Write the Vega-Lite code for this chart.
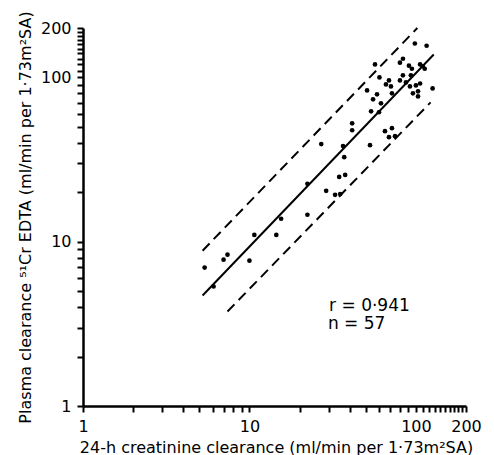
{
  "$schema": "https://vega.github.io/schema/vega-lite/v6.json",
  "width": 383,
  "height": 378,
  "autosize": {"type": "none"},
  "padding": {"left": 83, "top": 28, "right": 28, "bottom": 49},
  "background": "white",
  "config": {
    "view": {"stroke": null},
    "font": "DejaVu Sans"
  },
  "datasets": {
    "points": [
      {"creat": 5.38, "edta": 6.96}, {"creat": 6.09, "edta": 5.34}, {"creat": 6.99, "edta": 7.78},
      {"creat": 7.38, "edta": 8.34}, {"creat": 10.0, "edta": 7.67}, {"creat": 10.7, "edta": 11.0},
      {"creat": 14.5, "edta": 11.0}, {"creat": 15.5, "edta": 13.8}, {"creat": 22.3, "edta": 14.6},
      {"creat": 22.3, "edta": 22.5}, {"creat": 28.9, "edta": 20.4}, {"creat": 32.7, "edta": 19.3},
      {"creat": 35.1, "edta": 19.5}, {"creat": 34.6, "edta": 24.8}, {"creat": 37.6, "edta": 25.5},
      {"creat": 27.0, "edta": 39.3}, {"creat": 37.1, "edta": 32.7}, {"creat": 36.5, "edta": 38.2},
      {"creat": 41.4, "edta": 52.6}, {"creat": 41.4, "edta": 47.7}, {"creat": 53.0, "edta": 38.7},
      {"creat": 53.8, "edta": 62.2}, {"creat": 60.0, "edta": 61.4}, {"creat": 55.3, "edta": 73.6},
      {"creat": 58.4, "edta": 78.9}, {"creat": 61.7, "edta": 69.6}, {"creat": 50.9, "edta": 83.4},
      {"creat": 56.8, "edta": 120}, {"creat": 60.4, "edta": 100}, {"creat": 66.1, "edta": 90.7},
      {"creat": 68.9, "edta": 95.9}, {"creat": 70.8, "edta": 88.2}, {"creat": 71.8, "edta": 80.0},
      {"creat": 65.2, "edta": 47.1}, {"creat": 71.8, "edta": 49.1}, {"creat": 68.9, "edta": 43.3},
      {"creat": 74.9, "edta": 43.9}, {"creat": 80.2, "edta": 123}, {"creat": 83.6, "edta": 130},
      {"creat": 80.2, "edta": 95.9}, {"creat": 83.6, "edta": 103}, {"creat": 87.1, "edta": 93.3},
      {"creat": 92.1, "edta": 88.2}, {"creat": 90.8, "edta": 118}, {"creat": 94.6, "edta": 113},
      {"creat": 93.3, "edta": 103}, {"creat": 106, "edta": 120}, {"creat": 110, "edta": 117},
      {"creat": 100, "edta": 89.4}, {"creat": 106, "edta": 91.9}, {"creat": 96.0, "edta": 80.0},
      {"creat": 103, "edta": 82.3}, {"creat": 103, "edta": 76.7}, {"creat": 98.6, "edta": 161},
      {"creat": 116, "edta": 156}, {"creat": 126, "edta": 85.8}, {"creat": 113, "edta": 113}
    ],
    "fit": [
      {"creat": 5.23, "edta": 4.71},
      {"creat": 128, "edta": 138}
    ],
    "limits": [
      {"limit": "upper", "creat": 5.23, "edta": 8.82},
      {"limit": "upper", "creat": 102, "edta": 200},
      {"limit": "lower", "creat": 7.38, "edta": 3.76},
      {"limit": "lower", "creat": 122.5, "edta": 70.5}
    ],
    "notes": [
      {"creat": 30.1, "edta": 3.79, "text": "r = 0·941"},
      {"creat": 29.6, "edta": 2.94, "text": "n = 57"}
    ]
  },
  "encoding": {
    "x": {
      "field": "creat",
      "type": "quantitative",
      "scale": {"type": "log", "domain": [1, 200], "nice": false},
      "axis": {
        "values": [1, 2, 3, 4, 5, 6, 7, 8, 9, 10, 20, 30, 40, 50, 60, 70, 80, 90, 100, 110, 120, 130, 140, 150, 160, 170, 180, 190, 200],
        "format": "d",
        "labelExpr": "datum.value == 1 || datum.value == 10 || datum.value == 100 || datum.value == 200 ? datum.label : ''",
        "labelOverlap": false,
        "labelFlush": false,
        "grid": false,
        "domainColor": "black",
        "domainWidth": 2.5,
        "tickColor": "black",
        "tickWidth": 2,
        "tickSize": 6,
        "labelColor": "black",
        "labelFont": "DejaVu Sans",
        "labelFontSize": 16,
        "labelPadding": 6,
        "title": "24-h creatinine clearance (ml/min per 1·73m²SA)",
        "titleFont": "DejaVu Sans",
        "titleFontSize": 16,
        "titleFontWeight": "normal",
        "titleColor": "black",
        "titleAlign": "center",
        "titleBaseline": "alphabetic",
        "titleX": 193,
        "titleY": 46
      }
    },
    "y": {
      "field": "edta",
      "type": "quantitative",
      "scale": {"type": "log", "domain": [1, 200], "nice": false},
      "axis": {
        "values": [1, 2, 3, 4, 5, 6, 7, 8, 9, 10, 20, 30, 40, 50, 60, 70, 80, 90, 100, 110, 120, 130, 140, 150, 160, 170, 180, 190, 200],
        "format": "d",
        "labelExpr": "datum.value == 1 || datum.value == 10 || datum.value == 100 || datum.value == 200 ? datum.label : ''",
        "labelOverlap": false,
        "labelFlush": false,
        "grid": false,
        "domainColor": "black",
        "domainWidth": 2.5,
        "tickColor": "black",
        "tickWidth": 2,
        "tickSize": 6,
        "labelColor": "black",
        "labelFont": "DejaVu Sans",
        "labelFontSize": 16,
        "labelPadding": 6,
        "title": "Plasma clearance ⁵¹Cr EDTA (ml/min per 1·73m²SA)",
        "titleFont": "DejaVu Sans",
        "titleFontSize": 16,
        "titleFontWeight": "normal",
        "titleColor": "black",
        "titleAlign": "center",
        "titleBaseline": "alphabetic",
        "titleAngle": 270,
        "titleX": -53,
        "titleY": 189
      }
    }
  },
  "layer": [
    {
      "data": {"name": "limits"},
      "mark": {"type": "line", "color": "black", "strokeWidth": 2, "strokeDash": [10, 6]},
      "encoding": {"detail": {"field": "limit", "type": "nominal"}}
    },
    {
      "data": {"name": "fit"},
      "mark": {"type": "line", "color": "black", "strokeWidth": 2},
      "encoding": {}
    },
    {
      "data": {"name": "points"},
      "mark": {"type": "circle", "color": "black", "opacity": 1, "size": 22}
    },
    {
      "data": {"name": "notes"},
      "mark": {"type": "text", "align": "left", "baseline": "alphabetic", "fontSize": 17, "font": "DejaVu Sans", "color": "black"},
      "encoding": {"text": {"field": "text", "type": "nominal"}}
    }
  ]
}
